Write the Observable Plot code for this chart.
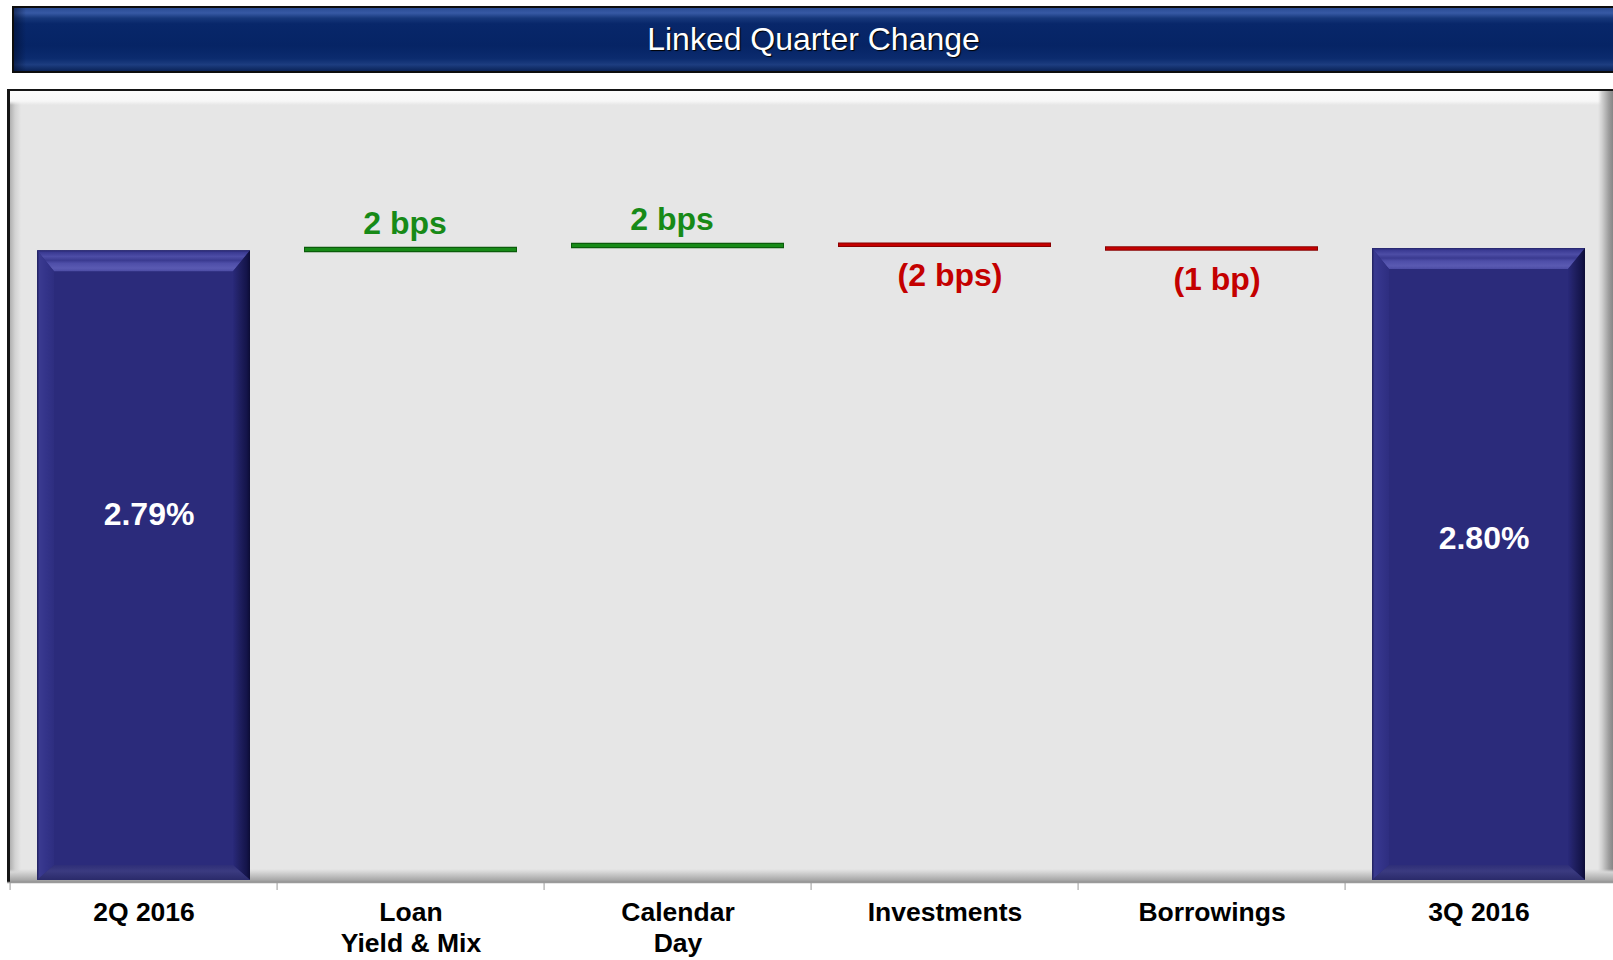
<!DOCTYPE html>
<html><head><meta charset="utf-8">
<script src="https://cdn.jsdelivr.net/npm/d3@7"></script>
<script src="https://cdn.jsdelivr.net/npm/@observablehq/plot@0.6"></script>
<style>
html,body{margin:0;padding:0;background:#fff;width:1613px;height:960px;overflow:hidden;}
#page{position:relative;width:1613px;height:960px;font-family:"Liberation Sans",Arial,sans-serif;}
#title{position:absolute;left:12px;top:6px;width:1601px;height:67px;box-sizing:border-box;border:2px solid #0d0d0d;border-right:none;
 background:
  linear-gradient(to right, rgba(2,14,45,0.55) 0, rgba(2,14,45,0) 12px),
  linear-gradient(to bottom, #2a4c94 0, #3759a4 8%, #17387b 16%, #08276a 25%, #062465 60%, #0b2b6e 80%, #1d3d80 90%, #0a2358 100%);
 color:#fff;font-size:32px;text-align:center;line-height:63px;text-shadow:1px 1px 1px #000;}
#panel{position:absolute;left:7px;top:89px;width:1606px;height:794px;box-sizing:border-box;border-top:2px solid #151515;border-left:3px solid #151515;
 background:
  linear-gradient(to bottom, rgba(255,255,255,0) calc(100% - 14px), #d6d6d6 calc(100% - 11px), #a8a8a8 calc(100% - 3px), #8a8a8a 100%),
  linear-gradient(to right, rgba(0,0,0,0) calc(100% - 15px), #d0d0d0 calc(100% - 11px), #9c9c9c calc(100% - 4px), #868686 100%),
  linear-gradient(to bottom, #fbfbfb 0, #f7f7f7 10px, rgba(230,230,230,0) 14px),
  linear-gradient(to right, #b0b0b0 0, #d2d2d2 5px, #e6e6e6 11px);}
#chart{position:absolute;left:0;top:80px;}
</style></head>
<body>
<div id="page">
  <div id="panel"></div>
  <div id="title">Linked Quarter Change</div>
  <div id="chart"></div>
</div>
<script>
// ---- data ----
const categories = ["2Q 2016", "Loan\nYield & Mix", "Calendar\nDay", "Investments", "Borrowings", "3Q 2016"];
const endCategories = ["2Q 2016", "3Q 2016"];
const endValues = [2.79, 2.80];
const endLabels = ["2.79%", "2.80%"];
const changeCategories = ["Loan\nYield & Mix", "Calendar\nDay", "Investments", "Borrowings"];
const changeBps = [2, 2, -2, -1];
const changeLabels = ["2 bps", "2 bps", "(2 bps)", "(1 bp)"];
const changeLevels = [2.796, 2.813, 2.817, 2.800];

// ---- tables ----
const endRows = endCategories.map((c, i) => ({cat: c, value: endValues[i], label: endLabels[i]}));
const changeRows = changeCategories.map((c, i) => ({cat: c, bps: changeBps[i], label: changeLabels[i], level: changeLevels[i]}));
const up = changeRows.filter(d => d.bps > 0);
const down = changeRows.filter(d => d.bps < 0);

const W = 1613, ML = 7, MR = -1;
const bw = (W - ML - MR) / categories.length;
const inset = 27;
const font = "Liberation Sans, Arial, sans-serif";
const green = "#178a17", greenDark = "#0b5c0b", red = "#c40000", redDark = "#8a0000";

const chart = Plot.plot({
  width: W, height: 880,
  marginTop: 10, marginBottom: 80, marginLeft: ML, marginRight: MR,
  style: {background: "transparent", fontFamily: font, overflow: "visible"},
  x: {domain: categories, padding: 0, axis: null},
  y: {domain: [0, 3.5], axis: null},
  marks: [
    Plot.ruleY([0], {stroke: "#9a9a9a", strokeWidth: 1.5, dy: 2}),
    Plot.axisX({tickSize: 8, dx: -bw / 2, dy: 2, tickFormat: () => "", color: "#9a9a9a", label: null}),
    Plot.axisX({tickSize: 0, tickPadding: 19, fontSize: 26.5, fontWeight: "bold", color: "#000", lineHeight: 1.15, tickFormat: d => d, label: null}),
    Plot.barY(endRows, {x: "cat", y: "value", fill: "#2b2b7b", insetLeft: inset, insetRight: inset}),
    Plot.text(endRows.filter(d => d.cat === "2Q 2016"), {x: "cat", y: d => d.value / 2, text: "label", dx: 5, dy: -51, fill: "#fff", fontSize: 32, fontWeight: "bold"}),
    Plot.text(endRows.filter(d => d.cat === "3Q 2016"), {x: "cat", y: d => d.value / 2, text: "label", dx: 5, dy: -26, fill: "#fff", fontSize: 32, fontWeight: "bold"}),
    Plot.tickY(up, {x: "cat", y: "level", stroke: greenDark, strokeWidth: 5.5, insetLeft: inset, insetRight: inset}),
    Plot.tickY(up, {x: "cat", y: "level", stroke: green, strokeWidth: 3, insetLeft: inset + 1, insetRight: inset + 1}),
    Plot.tickY(down, {x: "cat", y: "level", stroke: redDark, strokeWidth: 4.5, insetLeft: inset, insetRight: inset}),
    Plot.tickY(down, {x: "cat", y: "level", stroke: red, strokeWidth: 2.5, insetLeft: inset + 1, insetRight: inset + 1}),
    Plot.text(up, {x: "cat", y: "level", text: "label", dx: -6, dy: -26, fill: green, fontSize: 32, fontWeight: "bold"}),
    Plot.text(down, {x: "cat", y: "level", text: "label", dx: 5, dy: 31, fill: red, fontSize: 32, fontWeight: "bold"})
  ]
});

const svg = d3.select(chart);
const defs = svg.insert("defs", ":first-child");
function grad(id, vertical, stops) {
  const g = defs.append("linearGradient").attr("id", id)
    .attr("x1", 0).attr("y1", 0).attr("x2", vertical ? 0 : 1).attr("y2", vertical ? 1 : 0);
  stops.forEach(([o, c]) => g.append("stop").attr("offset", o).attr("stop-color", c));
}
grad("bevTop", true, [[0, "#24246a"], [0.1, "#3a3a92"], [0.3, "#4d4da6"], [0.48, "#3a3a90"], [0.62, "#4e4ea8"], [0.85, "#5a5ab2"], [1, "#4c4ca4"]]);
grad("bevLeft", false, [[0, "#20205c"], [0.15, "#3a3a90"], [0.5, "#34348a"], [1, "#2e2e80"]]);
grad("bevRight", false, [[0, "#29297a"], [0.4, "#1f1f60"], [0.8, "#14144a"], [1, "#0c0c35"]]);
grad("bevBottom", true, [[0, "#2e2e78"], [0.4, "#3b3b80"], [1, "#2a2a6a"]]);

svg.selectAll('g[aria-label="bar"] rect').each(function () {
  const r = d3.select(this);
  const x = +r.attr("x"), y = +r.attr("y"), w = +r.attr("width"), h = +r.attr("height");
  const g = d3.select(this.parentNode);
  const t = 21, s = 17, b = 15;
  const poly = (pts, fill) => g.append("polygon").attr("points", pts.map(p => p.join(",")).join(" ")).attr("fill", fill);
  poly([[x, y], [x + w, y], [x + w - s, y + t], [x + s, y + t]], "url(#bevTop)");
  poly([[x, y], [x + s, y + t], [x + s, y + h - b], [x, y + h]], "url(#bevLeft)");
  poly([[x + w, y], [x + w, y + h], [x + w - s, y + h - b], [x + w - s, y + t]], "url(#bevRight)");
  poly([[x, y + h], [x + s, y + h - b], [x + w - s, y + h - b], [x + w, y + h]], "url(#bevBottom)");
});

svg.selectAll('g[aria-label="x-axis tick label"] text').style("font-weight", "bold").style("font-size", "26.5px");
document.getElementById("chart").appendChild(chart);
</script>
</body></html>
